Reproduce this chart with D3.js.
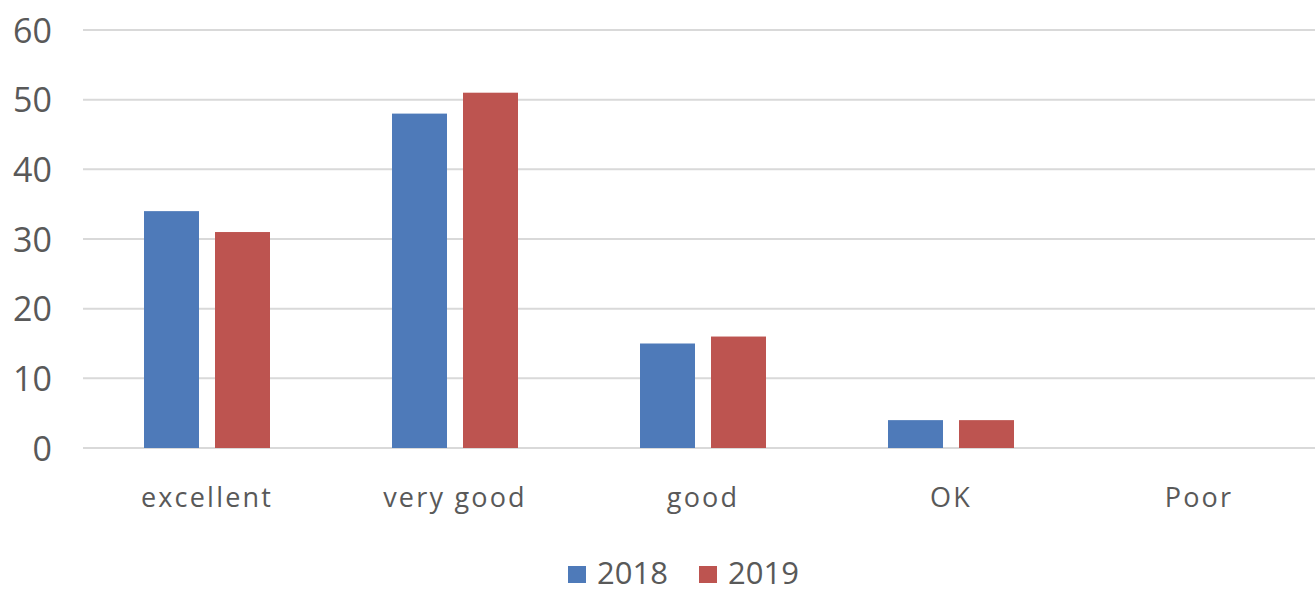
<!DOCTYPE html>
<html><head><meta charset="utf-8">
<script src="https://cdn.jsdelivr.net/npm/d3@7"></script>
<style>body{margin:0;background:#fff}svg{display:block}</style>
</head><body>
<svg id="c" width="1315" height="593"></svg>
<script>
const categories = ["excellent", "very good", "good", "OK", "Poor"];
const seriesNames = ["2018", "2019"];
const values2018 = [34, 48, 15, 4, 0];
const values2019 = [31, 51, 16, 4, 0];
const yTicks = [0, 10, 20, 30, 40, 50, 60];
const colors = ["#4e7ab9", "#bd5450"];

const svg = d3.select("#c");
const font = "'Open Sans', 'Noto Sans', sans-serif";
const textColor = "#595959";

const x = d3.scaleBand().domain(categories).range([83, 1323]).paddingInner(0).paddingOuter(0);
const y = d3.scaleLinear().domain([0, 60]).range([448, 30]);
const inner = d3.scaleBand().domain(seriesNames).range([0, 126]).paddingInner(16/71);

svg.append("g").selectAll("line").data(yTicks).join("line")
  .attr("x1", 83).attr("x2", 1315)
  .attr("y1", d => y(d)).attr("y2", d => y(d))
  .attr("stroke", "#d9d9d9").attr("stroke-width", 2);

const yAxis = d3.axisLeft(y).tickValues(yTicks).tickSize(0).tickPadding(0);
const gy = svg.append("g").attr("transform", "translate(52,0)").call(yAxis);
gy.select(".domain").remove();
gy.selectAll("text").attr("font-family", font).attr("font-size", 34).attr("fill", textColor).attr("dy", "0.36em");

const data = categories.map((c, i) => ({cat: c, vals: [values2018[i], values2019[i]]}));
const groups = svg.append("g").selectAll("g").data(data).join("g")
  .attr("transform", d => `translate(${x(d.cat) + x.bandwidth()/2 - 63},0)`);
groups.selectAll("rect").data(d => d.vals.map((v, j) => ({s: seriesNames[j], v, j}))).join("rect")
  .attr("x", d => inner(d.s)).attr("width", inner.bandwidth())
  .attr("y", d => y(d.v)).attr("height", d => y(0) - y(d.v))
  .attr("fill", d => colors[d.j]);

const xAxis = d3.axisBottom(x).tickSize(0).tickPadding(0);
const gx = svg.append("g").attr("transform", "translate(0,507)").call(xAxis);
gx.select(".domain").remove();
gx.selectAll("text").attr("font-family", font).attr("font-size", 27).attr("fill", textColor)
  .attr("letter-spacing", 2.2).attr("dy", 0).attr("y", 0);

const legend = svg.append("g");
const legendX = [568, 699];
seriesNames.forEach((s, i) => {
  legend.append("rect").attr("x", legendX[i]).attr("y", 566).attr("width", 18).attr("height", 17).attr("fill", colors[i]);
  legend.append("text").attr("x", legendX[i] + 29).attr("y", 584)
    .attr("font-family", font).attr("font-size", 31).attr("fill", textColor).text(s);
});
</script>
</body></html>
